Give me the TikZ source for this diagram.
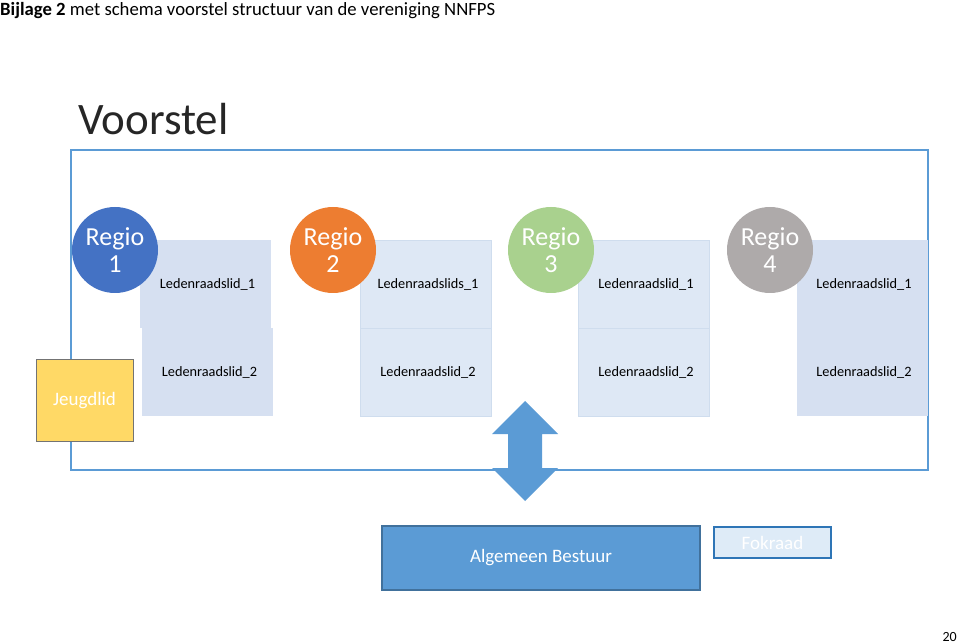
\documentclass[tikz,border=0pt]{standalone}
\usepackage{fontspec}
\setmainfont{Carlito}
\definecolor{frameblue}{HTML}{5B9BD5}
\definecolor{regA}{HTML}{4472C4}
\definecolor{regB}{HTML}{ED7D31}
\definecolor{regC}{HTML}{A9D18E}
\definecolor{regD}{HTML}{AEAAAA}
\definecolor{boxA}{HTML}{D6E0F1}
\definecolor{boxB}{HTML}{DEE8F5}
\definecolor{boxedge}{HTML}{CFDDEE}
\definecolor{jeugd}{HTML}{FFD966}
\definecolor{abfill}{HTML}{5B9BD5}
\definecolor{abedge}{HTML}{41719C}
\definecolor{fokfill}{HTML}{DEEBF7}
\definecolor{fokedge}{HTML}{2E75B6}
\definecolor{titlegray}{HTML}{262626}
\tikzset{
  regio/.style={circle, minimum size=86pt, inner sep=0pt, text=white, align=center,
    font=\fontsize{26}{27}\selectfont},
  lid/.style={rectangle, minimum width=131pt, minimum height=88pt, inner sep=0pt,
    font=\fontsize{14.3}{16}\selectfont, text=black},
  lidA/.style={lid, fill=boxA},
  lidB/.style={lid, fill=boxB, draw=boxedge, line width=0.6pt},
}
\begin{document}
\begin{tikzpicture}[x=1pt,y=-1pt]
\useasboundingbox (0,0) rectangle (959,644);
% title
\node[anchor=base west, inner sep=0pt, font=\fontsize{18.7}{21}\selectfont] (title) at (0,16)
  {\textbf{Bijlage 2} met schema voorstel structuur van de vereniging NNFPS};
\node[anchor=base west, inner sep=0pt, text=titlegray, font=\fontsize{45}{48}\selectfont] (voorstel) at (78,135) {Voorstel};
% frame
\draw[frameblue, line width=1.6pt] (71,150) rectangle (928,470);
% member boxes
\node[lidA] (r1a) at (205.5,284) {\hspace{4pt}Ledenraadslid\_1};
\node[lidA] (r1b) at (207.5,372) {\hspace{4pt}Ledenraadslid\_2};
\node[lidB] (r2a) at (426,284.5) {\hspace{4pt}Ledenraadslids\_1};
\node[lidB] (r2b) at (426,372) {\hspace{4pt}Ledenraadslid\_2};
\node[lidB] (r3a) at (644,284.5) {\hspace{4pt}Ledenraadslid\_1};
\node[lidB] (r3b) at (644,372) {\hspace{4pt}Ledenraadslid\_2};
\node[lidA] (r4a) at (862,284.5) {\hspace{4pt}Ledenraadslid\_1};
\node[lidA] (r4b) at (862,372) {\hspace{4pt}Ledenraadslid\_2};
% regio circles
\node[regio, fill=regA] (reg1) at (115,250) {Regio\\1};
\node[regio, fill=regB] (reg2) at (333,250) {Regio\\2};
\node[regio, fill=regC] (reg3) at (551,250) {Regio\\3};
\node[regio, fill=regD] (reg4) at (770,250) {Regio\\4};
% jeugdlid
\node[rectangle, fill=jeugd, draw=black!55, line width=1pt, minimum width=97pt, minimum height=81pt,
  inner sep=0pt, text=white, font=\fontsize{19}{21}\selectfont] (jeugd) at (84.5,400.5) {Jeugdlid};
% double arrow
\fill[frameblue] (525,401) -- (558,434) -- (542,434) -- (542,468) -- (558,468) -- (525,501)
  -- (492,468) -- (508,468) -- (508,434) -- (492,434) -- cycle;
% algemeen bestuur
\node[rectangle, fill=abfill, draw=abedge, line width=1.2pt, minimum width=318pt, minimum height=64pt,
  inner sep=0pt, text=white, font=\fontsize{19}{21}\selectfont] (ab) at (541,558) {Algemeen Bestuur};
\node[rectangle, fill=fokfill, draw=fokedge, line width=1.2pt, minimum width=117pt, minimum height=31pt,
  inner sep=0pt, text=white, font=\fontsize{19}{21}\selectfont] (fok) at (772.5,542.5) {Fokraad};
% page number
\node[anchor=base east, inner sep=0pt, font=\fontsize{14}{16}\selectfont] (page) at (957,641) {20};
\end{tikzpicture}
\end{document}
